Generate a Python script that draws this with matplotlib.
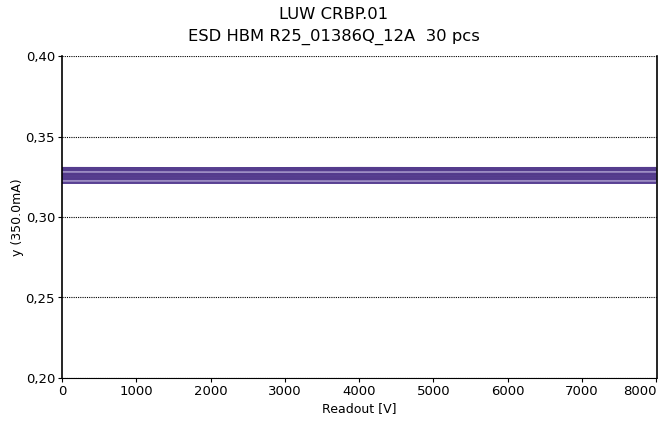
import matplotlib
matplotlib.use("Agg")
import matplotlib.pyplot as plt
import numpy as np

x_points = [0, 2000, 4000, 6000, 8000]

series = [
    [0.3305, 0.3304, 0.3305, 0.3304, 0.3305],
    [0.3302, 0.3301, 0.3302, 0.3301, 0.3302],
    [0.3299, 0.3298, 0.3299, 0.3299, 0.3299],
    [0.3296, 0.3296, 0.3295, 0.3296, 0.3296],
    [0.3293, 0.3292, 0.3293, 0.3293, 0.3293],
    [0.3290, 0.3290, 0.3289, 0.3290, 0.3290],
    [0.3287, 0.3286, 0.3287, 0.3287, 0.3287],
    [0.3283, 0.3284, 0.3283, 0.3282, 0.3283],
    [0.3279, 0.3279, 0.3280, 0.3279, 0.3279],
    [0.3276, 0.3275, 0.3276, 0.3276, 0.3276],
    [0.3273, 0.3272, 0.3272, 0.3273, 0.3273],
    [0.3269, 0.3269, 0.3270, 0.3269, 0.3269],
    [0.3266, 0.3266, 0.3265, 0.3266, 0.3266],
    [0.3262, 0.3263, 0.3262, 0.3262, 0.3262],
    [0.3259, 0.3258, 0.3259, 0.3259, 0.3259],
    [0.3255, 0.3255, 0.3256, 0.3255, 0.3255],
    [0.3252, 0.3252, 0.3251, 0.3252, 0.3252],
    [0.3249, 0.3248, 0.3249, 0.3248, 0.3249],
    [0.3245, 0.3245, 0.3245, 0.3246, 0.3245],
    [0.3242, 0.3242, 0.3241, 0.3242, 0.3242],
    [0.3239, 0.3238, 0.3239, 0.3239, 0.3239],
    [0.3236, 0.3236, 0.3235, 0.3236, 0.3236],
    [0.3233, 0.3232, 0.3233, 0.3233, 0.3233],
    [0.3230, 0.3230, 0.3229, 0.3230, 0.3230],
    [0.3227, 0.3226, 0.3227, 0.3227, 0.3227],
    [0.3224, 0.3224, 0.3224, 0.3223, 0.3224],
    [0.3221, 0.3221, 0.3220, 0.3221, 0.3221],
    [0.3219, 0.3218, 0.3219, 0.3219, 0.3219],
    [0.3216, 0.3216, 0.3216, 0.3215, 0.3216],
    [0.3213, 0.3213, 0.3213, 0.3213, 0.3213],
]
light_series = [
    [0.3280, 0.3279, 0.3279, 0.3280, 0.3280],
    [0.3224, 0.3224, 0.3223, 0.3224, 0.3224],
]

x_ticks = [0, 1000, 2000, 3000, 4000, 5000, 6000, 7000, 8000]
y_ticks = [0.20, 0.25, 0.30, 0.35, 0.40]
y_tick_labels = ["0,20", "0,25", "0,30", "0,35", "0,40"]

fig = plt.figure(figsize=(6.67, 4.23), dpi=100)
ax = fig.add_axes([62/667, 45/423, 595/667, 322/423])

dark = ["#513788", "#5a4294", "#4e3585", "#5c4597"]
for i, s in enumerate(series):
    ax.plot(x_points, s, color=dark[i % len(dark)], lw=1.4, solid_capstyle="butt")
for s in light_series:
    ax.plot(x_points, s, color="#b3a6d4", lw=1.0)

ax.set_xlim(0, 8010)
ax.set_ylim(0.20, 0.40)
ax.set_xticks(x_ticks)
ax.set_yticks(y_ticks)
ax.set_yticklabels(y_tick_labels)
ax.tick_params(axis="both", labelsize=9.5, length=3, width=0.8, direction="out",
               colors="black", pad=2)
xlabels = ax.get_xticklabels()
xlabels[-1].set_horizontalalignment("right")
ax.grid(axis="y", color="black", linestyle=(0, (1, 1)), linewidth=0.8)
ax.spines["top"].set_visible(False)
ax.spines["bottom"].set_linestyle((0, (1, 1)))
ax.spines["bottom"].set_linewidth(0.8)
ax.spines["left"].set_linewidth(1.2)
ax.spines["right"].set_linewidth(1.2)

ax.set_xlabel("Readout [V]", fontsize=9, labelpad=3)
ax.set_ylabel("y (350.0mA)", fontsize=9, labelpad=1)
fig.text(0.5, 0.983, "LUW CRBP.01", ha="center", va="top", fontsize=11.8)
fig.text(0.5, 0.931, "ESD HBM R25_01386Q_12A  30 pcs", ha="center", va="top", fontsize=11.8)

fig.savefig("out.png", dpi=100)
